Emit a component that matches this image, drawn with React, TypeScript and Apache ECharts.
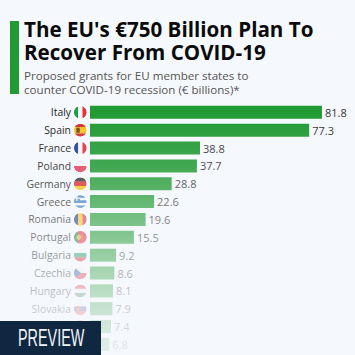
import React, { useEffect, useRef } from "react";
import * as echarts from "echarts";

const countries = ["Italy", "Spain", "France", "Poland", "Germany", "Greece", "Romania", "Portugal", "Bulgaria", "Czechia", "Hungary", "Slovakia", "", ""];
const grants = [81.8, 77.3, 38.8, 37.7, 28.8, 22.6, 19.6, 15.5, 9.2, 8.6, 8.1, 7.9, 7.4, 6.8];
// stripe direction and colours of each flag
const flagStripes: [string, string[]][] = [
  ["v", ["#1f9a4b", "#f4f4f4", "#e0343f"]],
  ["h", ["#d32f2f", "#f5c21b", "#f5c21b", "#d32f2f"]],
  ["v", ["#24409a", "#f4f4f4", "#e0343f"]],
  ["h", ["#f2f2f2", "#e2405a"]],
  ["h", ["#333333", "#d92b2b", "#f6c410"]],
  ["h", ["#3f7fc4", "#f4f4f4", "#3f7fc4", "#f4f4f4", "#3f7fc4"]],
  ["v", ["#27408f", "#f6c90e", "#d93a4a"]],
  ["v", ["#1d7a3d", "#e0303a", "#e0303a"]],
  ["h", ["#f2f2f2", "#1f9a6b", "#d8343a"]],
  ["h", ["#f2f2f2", "#d8343a"]],
  ["h", ["#d8343a", "#f2f2f2", "#3f8a50"]],
  ["h", ["#f2f2f2", "#2a50a0", "#e0343f"]],
  ["h", ["#e0343f", "#f2f2f2", "#2a50a0"]],
  ["h", ["#2a50a0", "#f2f2f2", "#e0343f"]],
];

const titleText = "The EU's €750 Billion Plan To\nRecover From COVID-19";
const subtitleText = "Proposed grants for EU member states to\ncounter COVID-19 recession (€ billions)*";

const BG = "#f5f8fc";
const GREEN = "#229a34";

function flagItem(params: any, api: any) {
  const i = api.value(0);
  const y = api.coord([0, i])[1];
  const cx = 80.3;
  const r = 6.5;
  const [dir, cols] = flagStripes[i];
  const name = countries[i];
  const children: any[] = cols.map((c, k) => {
    const f = k / cols.length;
    const w = (2 * r) / cols.length;
    return {
      type: "rect",
      shape: dir === "v"
        ? { x: cx - r + f * 2 * r, y: y - r, width: w + 0.2, height: 2 * r }
        : { x: cx - r, y: y - r + f * 2 * r, width: 2 * r, height: w + 0.2 },
      style: { fill: c },
    };
  });
  if (name === "Spain") children.push({ type: "rect", shape: { x: cx - 4, y: y - 2.5, width: 3.5, height: 5 }, style: { fill: "#7a4a1a" } });
  if (name === "Greece") children.push(
    { type: "rect", shape: { x: cx - r, y: y - r, width: 6, height: 6 }, style: { fill: "#3f7fc4" } },
    { type: "rect", shape: { x: cx - r + 2.3, y: y - r, width: 1.4, height: 6 }, style: { fill: "#f4f4f4" } },
    { type: "rect", shape: { x: cx - r, y: y - r + 2.3, width: 6, height: 1.4 }, style: { fill: "#f4f4f4" } }
  );
  if (name === "Portugal") children.push({ type: "circle", shape: { cx: cx - 1.5, cy: y, r: 2.6 }, style: { fill: "#c9b23a" } });
  if (name === "Czechia") children.push({ type: "polygon", shape: { points: [[cx - r, y - r], [cx + 0.5, y], [cx - r, y + r]] }, style: { fill: "#2a50a0" } });
  if (name === "Slovakia") children.push({ type: "circle", shape: { cx: cx - 2, cy: y, r: 2.6 }, style: { fill: "#d8343a" } });
  return {
    type: "group",
    children: [
      { type: "group", clipPath: { type: "circle", shape: { cx, cy: y, r } }, children },
      { type: "circle", shape: { cx, cy: y, r: r + 0.3 }, style: { fill: "none", stroke: "#ffffff", lineWidth: 0.8 } },
    ],
  };
}

export default function App() {
  const ref = useRef<HTMLDivElement>(null);
  useEffect(() => {
    const chart = echarts.init(ref.current!, null, { renderer: "svg" });
    const font = "'Open Sans'";
    chart.setOption({
      animation: false,
      backgroundColor: BG,
      grid: { left: 90, top: 103.4, width: 255.2, height: 250, containLabel: false },
      xAxis: { type: "value", min: 0, max: 90, show: false },
      yAxis: {
        type: "category",
        inverse: true,
        data: countries,
        axisLine: { show: false },
        axisTick: { show: false },
        axisLabel: { interval: 0, margin: 19, fontFamily: font, fontSize: 10.4, color: "#222222" },
      },
      series: [
        {
          type: "bar",
          data: grants,
          barWidth: 13,
          itemStyle: { color: GREEN },
          label: { show: true, position: "right", distance: 3, fontFamily: font, fontSize: 11, color: "#333333", formatter: (p: any) => p.value.toFixed(1) },
        },
        {
          type: "custom",
          coordinateSystem: "cartesian2d",
          clip: false,
          renderItem: flagItem,
          data: grants.map((_, i) => [i]),
          encode: { y: 0 },
          silent: true,
        },
      ],
      graphic: [
        { type: "rect", z: 100, shape: { x: 10, y: 21, width: 9, height: 73 }, style: { fill: GREEN } },
        { type: "text", z: 100, x: 24, y: 17, style: { text: titleText, fontFamily: font, fontWeight: 700, fontSize: 20.6, lineHeight: 23.5, fill: "#0b0b0b" } },
        { type: "text", z: 100, x: 24, y: 68, style: { text: subtitleText, fontFamily: font, fontSize: 11.6, lineHeight: 14, fill: "#555555" } },
        {
          type: "rect", z: 100, shape: { x: 0, y: 100, width: 355, height: 255 },
          style: {
            fill: new echarts.graphic.LinearGradient(0, 0, 0, 1, [
              { offset: 0, color: "rgba(245,248,252,0)" },
              { offset: 0.05, color: "rgba(245,248,252,0)" },
              { offset: 0.26, color: "rgba(245,248,252,0.15)" },
              { offset: 0.47, color: "rgba(245,248,252,0.4)" },
              { offset: 0.75, color: "rgba(245,248,252,0.72)" },
              { offset: 1, color: "rgba(245,248,252,0.92)" },
            ]),
          },
        },
        { type: "rect", z: 101, shape: { x: 0, y: 321, width: 101, height: 34 }, style: { fill: "#0f2741" } },
        { type: "text", z: 102, x: 18, y: 325, scaleX: 0.6, style: { text: "PREVIEW", fontFamily: "'Liberation Sans'", fontSize: 24, fill: "#f2f5f8" } },
      ],
    });
    return () => chart.dispose();
  }, []);
  return <div ref={ref} style={{ position: "fixed", left: 0, top: 0, width: 355, height: 355 }} />;
}
